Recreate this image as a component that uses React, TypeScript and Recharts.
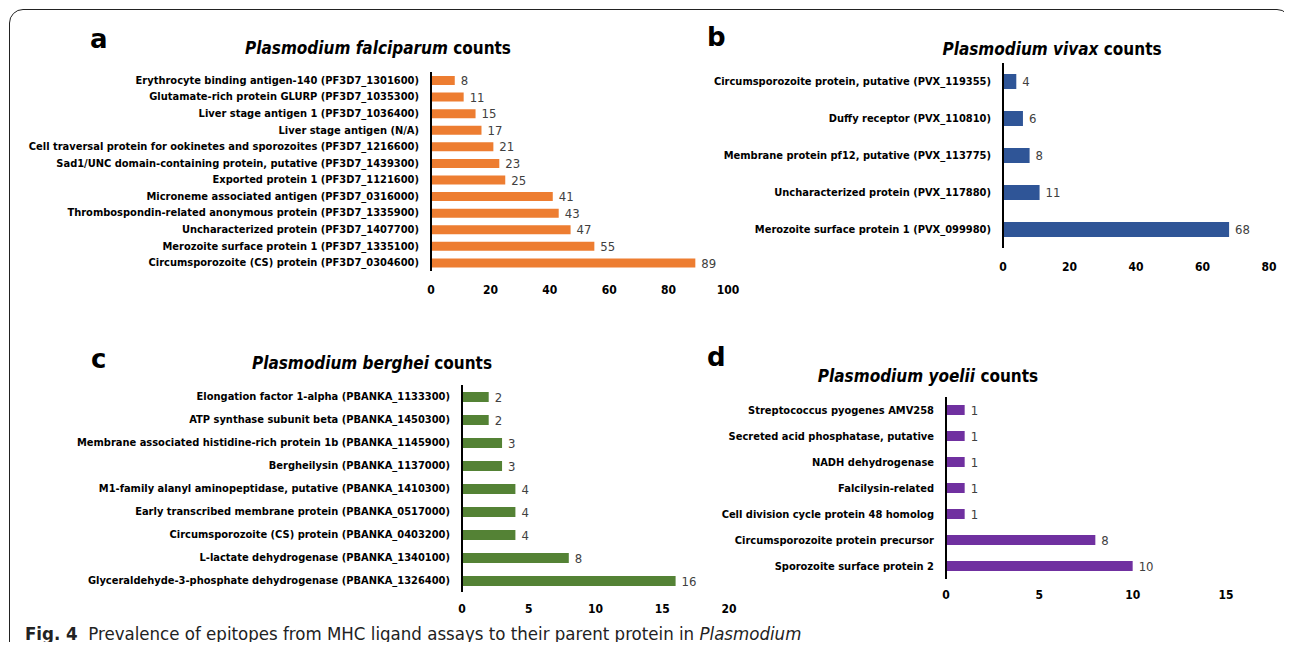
import React from 'react';
import { BarChart, Bar, XAxis, YAxis, LabelList } from 'recharts';

// P. falciparum
const falciparumProteins = [
  'Erythrocyte binding antigen-140 (PF3D7_1301600)',
  'Glutamate-rich protein GLURP (PF3D7_1035300)',
  'Liver stage antigen 1 (PF3D7_1036400)',
  'Liver stage antigen (N/A)',
  'Cell traversal protein for ookinetes and sporozoites (PF3D7_1216600)',
  'Sad1/UNC domain-containing protein, putative (PF3D7_1439300)',
  'Exported protein 1 (PF3D7_1121600)',
  'Microneme associated antigen (PF3D7_0316000)',
  'Thrombospondin-related anonymous protein (PF3D7_1335900)',
  'Uncharacterized protein (PF3D7_1407700)',
  'Merozoite surface protein 1 (PF3D7_1335100)',
  'Circumsporozoite (CS) protein (PF3D7_0304600)',
];
const falciparumCounts = [8, 11, 15, 17, 21, 23, 25, 41, 43, 47, 55, 89];
const falciparumTicks = [0, 20, 40, 60, 80, 100];

// P. vivax
const vivaxProteins = [
  'Circumsporozoite protein, putative (PVX_119355)',
  'Duffy receptor (PVX_110810)',
  'Membrane protein pf12, putative (PVX_113775)',
  'Uncharacterized protein (PVX_117880)',
  'Merozoite surface protein 1 (PVX_099980)',
];
const vivaxCounts = [4, 6, 8, 11, 68];
const vivaxTicks = [0, 20, 40, 60, 80];

// P. berghei
const bergheiProteins = [
  'Elongation factor 1-alpha (PBANKA_1133300)',
  'ATP synthase subunit beta (PBANKA_1450300)',
  'Membrane associated histidine-rich protein 1b (PBANKA_1145900)',
  'Bergheilysin (PBANKA_1137000)',
  'M1-family alanyl aminopeptidase, putative (PBANKA_1410300)',
  'Early transcribed membrane protein (PBANKA_0517000)',
  'Circumsporozoite (CS) protein (PBANKA_0403200)',
  'L-lactate dehydrogenase (PBANKA_1340100)',
  'Glyceraldehyde-3-phosphate dehydrogenase (PBANKA_1326400)',
];
const bergheiCounts = [2, 2, 3, 3, 4, 4, 4, 8, 16];
const bergheiTicks = [0, 5, 10, 15, 20];

// P. yoelii
const yoeliiProteins = [
  'Streptococcus pyogenes AMV258',
  'Secreted acid phosphatase, putative',
  'NADH dehydrogenase',
  'Falcilysin-related',
  'Cell division cycle protein 48 homolog',
  'Circumsporozoite protein precursor',
  'Sporozoite surface protein 2',
];
const yoeliiCounts = [1, 1, 1, 1, 1, 8, 10];
const yoeliiTicks = [0, 5, 10, 15];

const FONT = "'DejaVu Sans Condensed', 'Liberation Sans Narrow', Arial, sans-serif";

// plain svg text so long protein names stay on one line
const CategoryTick = (props: any) => {
  const { x, y, payload } = props;
  return (
    <text
      x={x}
      y={y}
      textAnchor="end"
      dominantBaseline="central"
      fontSize={11}
      fontWeight={700}
      fill="#000"
      fontFamily={FONT}
    >
      {payload.value}
    </text>
  );
};

interface PanelProps {
  names: string[];
  counts: number[];
  ticks: number[];
  color: string;
  left: number;
  top: number;
  width: number;
  plotTop: number;
  plotHeight: number;
  axisWidth: number;
  rightMargin: number;
  barSize: number;
  tickGap: number;
}

const Panel: React.FC<PanelProps> = (p) => {
  const data = p.names.map((name, i) => ({ name, count: p.counts[i] }));
  const height = p.plotTop + p.plotHeight + 30;
  return (
    <div style={{ position: 'absolute', left: p.left, top: p.top }}>
      <BarChart
        layout="vertical"
        width={p.width}
        height={height}
        data={data}
        margin={{ top: p.plotTop, right: p.rightMargin, left: 0, bottom: 0 }}
      >
        <XAxis
          type="number"
          domain={[p.ticks[0], p.ticks[p.ticks.length - 1]]}
          ticks={p.ticks}
          axisLine={false}
          tickLine={false}
          tickSize={0}
          tickMargin={p.tickGap}
          height={30}
          interval={0}
          tick={{ fontSize: 12, fontWeight: 700, fill: '#000', fontFamily: FONT }}
        />
        <YAxis
          type="category"
          dataKey="name"
          width={p.axisWidth}
          axisLine={{ stroke: '#000', strokeWidth: 2 }}
          tickLine={false}
          tickSize={0}
          tickMargin={12}
          interval={0}
          tick={<CategoryTick />}
        />
        <Bar dataKey="count" fill={p.color} barSize={p.barSize} isAnimationActive={false}>
          <LabelList
            dataKey="count"
            position="right"
            offset={6}
            style={{ fontSize: 13, fill: '#404040', fontFamily: FONT }}
          />
        </Bar>
      </BarChart>
    </div>
  );
};

const letterStyle: React.CSSProperties = {
  position: 'absolute',
  fontFamily: "'DejaVu Sans', Arial, sans-serif",
  fontWeight: 700,
  fontSize: 26,
  lineHeight: '28px',
  color: '#000',
};

const titleStyle: React.CSSProperties = {
  position: 'absolute',
  fontFamily: FONT,
  fontWeight: 700,
  fontSize: 17,
  lineHeight: '20px',
  color: '#000',
  whiteSpace: 'nowrap',
  transform: 'translateX(-50%)',
};

const App: React.FC = () => {
  return (
    <div
      style={{
        position: 'relative',
        margin: -8,
        width: 1292,
        height: 650,
        overflow: 'hidden',
        background: '#fff',
      }}
    >
      <div
        style={{
          position: 'absolute',
          left: 9,
          top: 9,
          width: 1282,
          height: 720,
          border: '1.5px solid #222',
          borderRadius: 14,
          boxSizing: 'border-box',
        }}
      />

      <div style={{ ...letterStyle, left: 90, top: 25 }}>a</div>
      <div style={{ ...letterStyle, left: 707, top: 23 }}>b</div>
      <div style={{ ...letterStyle, left: 91, top: 345 }}>c</div>
      <div style={{ ...letterStyle, left: 707, top: 343 }}>d</div>

      <div style={{ ...titleStyle, left: 378, top: 38 }}>
        <i>Plasmodium falciparum</i> counts
      </div>
      <div style={{ ...titleStyle, left: 1052, top: 39 }}>
        <i>Plasmodium vivax</i> counts
      </div>
      <div style={{ ...titleStyle, left: 372, top: 353 }}>
        <i>Plasmodium berghei</i> counts
      </div>
      <div style={{ ...titleStyle, left: 928, top: 366 }}>
        <i>Plasmodium yoelii</i> counts
      </div>

      <Panel
        names={falciparumProteins}
        counts={falciparumCounts}
        ticks={falciparumTicks}
        color="#ED7D31"
        left={0}
        top={0}
        width={760}
        plotTop={72}
        plotHeight={199}
        axisWidth={431}
        rightMargin={32}
        barSize={9}
        tickGap={14}
      />
      <Panel
        names={vivaxProteins}
        counts={vivaxCounts}
        ticks={vivaxTicks}
        color="#2F5597"
        left={680}
        top={0}
        width={612}
        plotTop={63}
        plotHeight={185}
        axisWidth={323}
        rightMargin={23}
        barSize={15}
        tickGap={14}
      />
      <Panel
        names={bergheiProteins}
        counts={bergheiCounts}
        ticks={bergheiTicks}
        color="#548235"
        left={0}
        top={330}
        width={760}
        plotTop={55}
        plotHeight={207}
        axisWidth={462}
        rightMargin={31}
        barSize={10}
        tickGap={12}
      />
      <Panel
        names={yoeliiProteins}
        counts={yoeliiCounts}
        ticks={yoeliiTicks}
        color="#7030A0"
        left={680}
        top={330}
        width={612}
        plotTop={67}
        plotHeight={182}
        axisWidth={266}
        rightMargin={66}
        barSize={10}
        tickGap={11}
      />

      <div
        style={{
          position: 'absolute',
          left: 25,
          top: 623,
          fontFamily: FONT,
          fontSize: 18.5,
          lineHeight: '22px',
          color: '#222',
          whiteSpace: 'nowrap',
        }}
      >
        <b>Fig. 4</b>&nbsp;&nbsp;Prevalence of epitopes from MHC ligand assays to their parent protein in{' '}
        <i>Plasmodium</i>
      </div>
    </div>
  );
};

export default App;
